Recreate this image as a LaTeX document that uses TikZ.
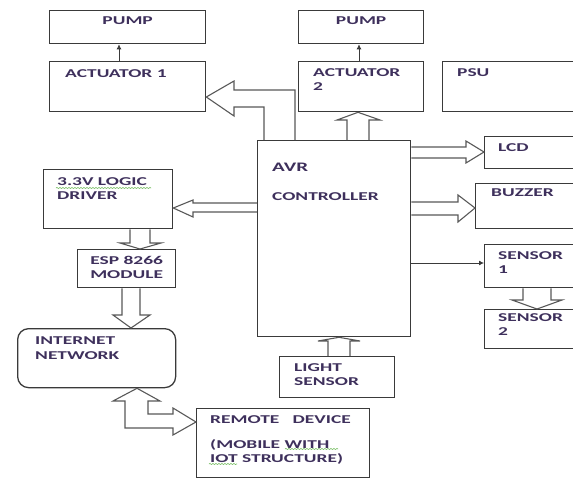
\documentclass[tikz,border=0pt]{standalone}
\usepackage{fontspec}
\setmainfont{Carlito}
\newfontfamily\boxfont[FakeStretch=1.62]{Carlito}
\usetikzlibrary{arrows.meta, positioning, decorations.pathmorphing}
\definecolor{edgecol}{RGB}{58,58,58}
\definecolor{pipecol}{RGB}{88,88,88}
\definecolor{textcol}{RGB}{62,48,92}
\definecolor{spellcol}{RGB}{120,190,100}

\begin{document}
\begin{tikzpicture}[
  x=1pt, y=-1pt,
  >=Latex,
  box/.style={draw=edgecol, line width=1.3pt, inner sep=0pt, anchor=north west},
  netbox/.style={box, rounded corners=11pt},
  lbl/.style={font=\boxfont\bfseries\fontsize{12}{14.5}\selectfont,
              text=textcol, inner sep=0pt, align=left},
  biglbl/.style={lbl, font=\boxfont\bfseries\fontsize{13}{15}\selectfont},
  ctr/.style={lbl, align=center},
  hollow/.style={draw=pipecol, line width=1.1pt, line join=miter},
  thin/.style={draw=edgecol, line width=0.8pt, -{Latex[length=5pt, width=5pt]}},
  spell/.style={draw=spellcol, line width=0.6pt, decorate,
                decoration={snake, amplitude=0.6pt, segment length=3pt}}
]
  \useasboundingbox (0,0) rectangle (573,479);

  % blocks
  \node[box, minimum width=156pt, minimum height=33pt] (pump1) at (49,10) {};
  \node[box, minimum width=156pt, minimum height=50pt] (act1) at (49,61) {};
  \node[box, minimum width=125pt, minimum height=33pt] (pump2) at (298,10) {};
  \node[box, minimum width=125pt, minimum height=50pt] (act2) at (298,61) {};
  \node[box, minimum width=140pt, minimum height=50pt] (psu) at (442,61) {};
  \node[box, minimum width=153pt, minimum height=196pt] (avr) at (257,140) {};
  \node[box, minimum width=98pt, minimum height=32pt] (lcd) at (484,136) {};
  \node[box, minimum width=107pt, minimum height=45pt] (buzzer) at (475,183) {};
  \node[box, minimum width=98pt, minimum height=43pt] (sens1) at (484,244) {};
  \node[box, minimum width=98pt, minimum height=39pt] (sens2) at (484,309) {};
  \node[box, minimum width=129pt, minimum height=59pt] (driver) at (43,169) {};
  \node[box, minimum width=98pt, minimum height=38pt] (esp) at (77,249) {};
  \node[netbox, minimum width=158pt, minimum height=59pt] (net) at (17,328) {};
  \node[box, minimum width=115pt, minimum height=41pt] (light) at (279,356) {};
  \node[box, minimum width=173pt, minimum height=69pt] (remote) at (196,408) {};

  % texts
  \node[ctr, below=7pt of pump1.north] (pump1-t) {PUMP};
  \node[ctr, below=7pt of pump2.north] (pump2-t) {PUMP};
  \node[lbl, below right=8pt and 16pt of act1.north west] (act1-t) {ACTUATOR 1};
  \node[lbl, below right=7pt and 15pt of act2.north west] (act2-t) {ACTUATOR\\2};
  \node[lbl, below right=7pt and 15pt of psu.north west] (psu-t) {PSU};
  \node[biglbl, below right=23pt and 15pt of avr.north west] (avr-t) {AVR};
  \node[lbl, below right=52pt and 15pt of avr.north west] (ctrl-t) {CONTROLLER};
  \node[lbl, below right=7pt and 14pt of lcd.north west] (lcd-t) {LCD};
  \node[lbl, below right=6pt and 16pt of buzzer.north west] (buzzer-t) {BUZZER};
  \node[lbl, below right=7pt and 14pt of sens1.north west] (sens1-t) {SENSOR\\1};
  \node[lbl, below right=4pt and 14pt of sens2.north west] (sens2-t) {SENSOR\\2};
  \node[lbl, below right=8pt and 14pt of driver.north west] (driver-t) {3.3V LOGIC\\DRIVER};
  \node[ctr, below=7pt of esp.north] (esp-t) {ESP 8266\\MODULE};
  \node[lbl, below right=9pt and 18pt of net.north west] (net-t) {INTERNET\\NETWORK};
  \node[lbl, below right=7pt and 15pt of light.north west] (light-t) {LIGHT\\SENSOR};
  \node[lbl, below right=7pt and 14pt of remote.north west] (remote-t) {REMOTE~~~DEVICE};
  \node[lbl, below right=31pt and 14pt of remote.north west] (mobile-t) {(MOBILE WITH\\IOT STRUCTURE)};

  % spelling marks
  \draw[spell] (56,188) -- (151,188);
  \draw[spell] (285,449) -- (338,449);
  \draw[spell] (209,464) -- (237,464);

  % thin links
  \draw[thin] (119,0 |- act1.north) -- (119,0 |- pump1.south);
  \draw[thin] (359,0 |- act2.north) -- (359,0 |- pump2.south);
  \draw[thin] (avr.east |- 0,263) -- (sens1.west |- 0,263);

  % block arrows
  \draw[hollow] (295,0 |- avr.north) -- (295,90) -- (234,90) -- (234,81)
    -- (act1.east |- 0,97) -- (234,116) -- (234,107) -- (264,107) -- (264,0 |- avr.north);
  \draw[hollow] (347,0 |- avr.north) -- (347,120) -- (337,120) -- (358,0 |- act2.south)
    -- (380,120) -- (369,120) -- (369,0 |- avr.north);
  \draw[hollow] (avr.east |- 0,147) -- (466,147) -- (466,141) -- (lcd.west |- 0,152)
    -- (466,163) -- (466,158) -- (avr.east |- 0,158);
  \draw[hollow] (avr.east |- 0,202) -- (458,202) -- (458,195) -- (buzzer.west |- 0,208)
    -- (458,222) -- (458,215) -- (avr.east |- 0,215);
  \draw[hollow] (avr.west |- 0,203) -- (193,203) -- (193,200) -- (driver.east |- 0,208)
    -- (193,217) -- (193,212) -- (avr.west |- 0,212);
  \draw[hollow] (130,0 |- driver.south) -- (130,243) -- (120,243) -- (140,0 |- esp.north)
    -- (161,243) -- (150,243) -- (150,0 |- driver.south);
  \draw[hollow] (122,0 |- esp.south) -- (122,315) -- (113,315) -- (131,0 |- net.north)
    -- (150,315) -- (140,315) -- (140,0 |- esp.south);
  \draw[hollow] (137,0 |- net.south) -- (160,401) -- (148,401) -- (148,414) -- (173,414)
    -- (173,408) -- (remote.west |- 0,422) -- (173,435) -- (173,428) -- (125,428)
    -- (125,401) -- (113,401) -- cycle;
  \draw[hollow] (523,0 |- sens1.south) -- (523,300) -- (512,300) -- (537,0 |- sens2.north)
    -- (562,300) -- (551,300) -- (551,0 |- sens1.south);
  \draw[hollow] (328,0 |- light.north) -- (328,341) -- (318,341) -- (339,0 |- avr.south)
    -- (360,341) -- (350,341) -- (350,0 |- light.north);
\end{tikzpicture}
\end{document}
